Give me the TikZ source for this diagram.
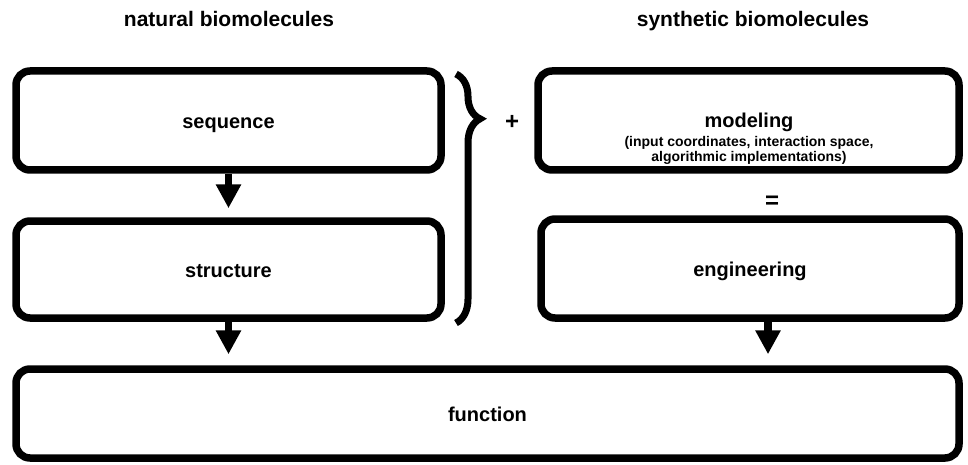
\documentclass[tikz,border=0pt]{standalone}
\usepackage{fontspec}
\setmainfont{Liberation Sans}
\usetikzlibrary{arrows.meta,decorations.pathreplacing,positioning}

\tikzset{
  blk/.style={draw, line width=7.5pt, rounded corners=14pt, inner sep=0pt,
    text height=16pt, text depth=0pt,
    font=\bfseries\fontsize{20}{24}\selectfont},
  ttl/.style={font=\bfseries\fontsize{21}{24}\selectfont, anchor=base},
  sgn/.style={font=\bfseries\fontsize{24}{28}\selectfont},
  arr/.style={line width=7.5pt, -{Triangle[width=24pt,length=24pt]}},
  brc/.style={line width=7pt, decorate,
    decoration={brace, amplitude=24pt, aspect=0.18}},
}

\begin{document}
\begin{tikzpicture}[x=1pt,y=-1pt]
\useasboundingbox (0,0) rectangle (968,465);
%% titles
\node[ttl] (nat) at (229,27) {natural biomolecules};
\node[ttl] (syn) at (753,27) {synthetic biomolecules};
%% boxes
\node[blk, minimum width=425pt, minimum height=99pt] (seq) at (228.5,120.5) {sequence};
\node[blk, minimum width=425pt, minimum height=97pt] (str) at (228.5,269.5) {structure};
\node[blk, minimum width=421pt, minimum height=99pt] (mod) at (748.5,120.5) {};
\node[blk, minimum width=418pt, minimum height=99pt] (eng) at (750,268.5) {engineering};
\node[blk, minimum width=943pt, minimum height=89pt] (fun) at (487.5,413.5) {function};
\node[align=center, anchor=north, inner sep=0pt,
  font=\bfseries\fontsize{14}{15}\selectfont] (modtxt) at (749,113)
  {{\fontsize{20}{22}\selectfont modeling}\\[4pt]
   (input coordinates, interaction space,\\
   algorithmic implementations)};
%% brace, plus, equal
\draw[brc] (456,74) -- (456,323);
\node[sgn] (plus) at (512,122) {+};
\node[sgn] (eq) at (772,202) {=};
%% arrows
\draw[arr, shorten >=9pt] (seq.south) -- (str.north);
\draw[arr, shorten >=11pt] (str.south) -- (str.south |- fun.north);
\draw[arr, shorten >=11pt] ([xshift=18pt]eng.south) -- ([xshift=18pt]eng.south |- fun.north);
\end{tikzpicture}
\end{document}
